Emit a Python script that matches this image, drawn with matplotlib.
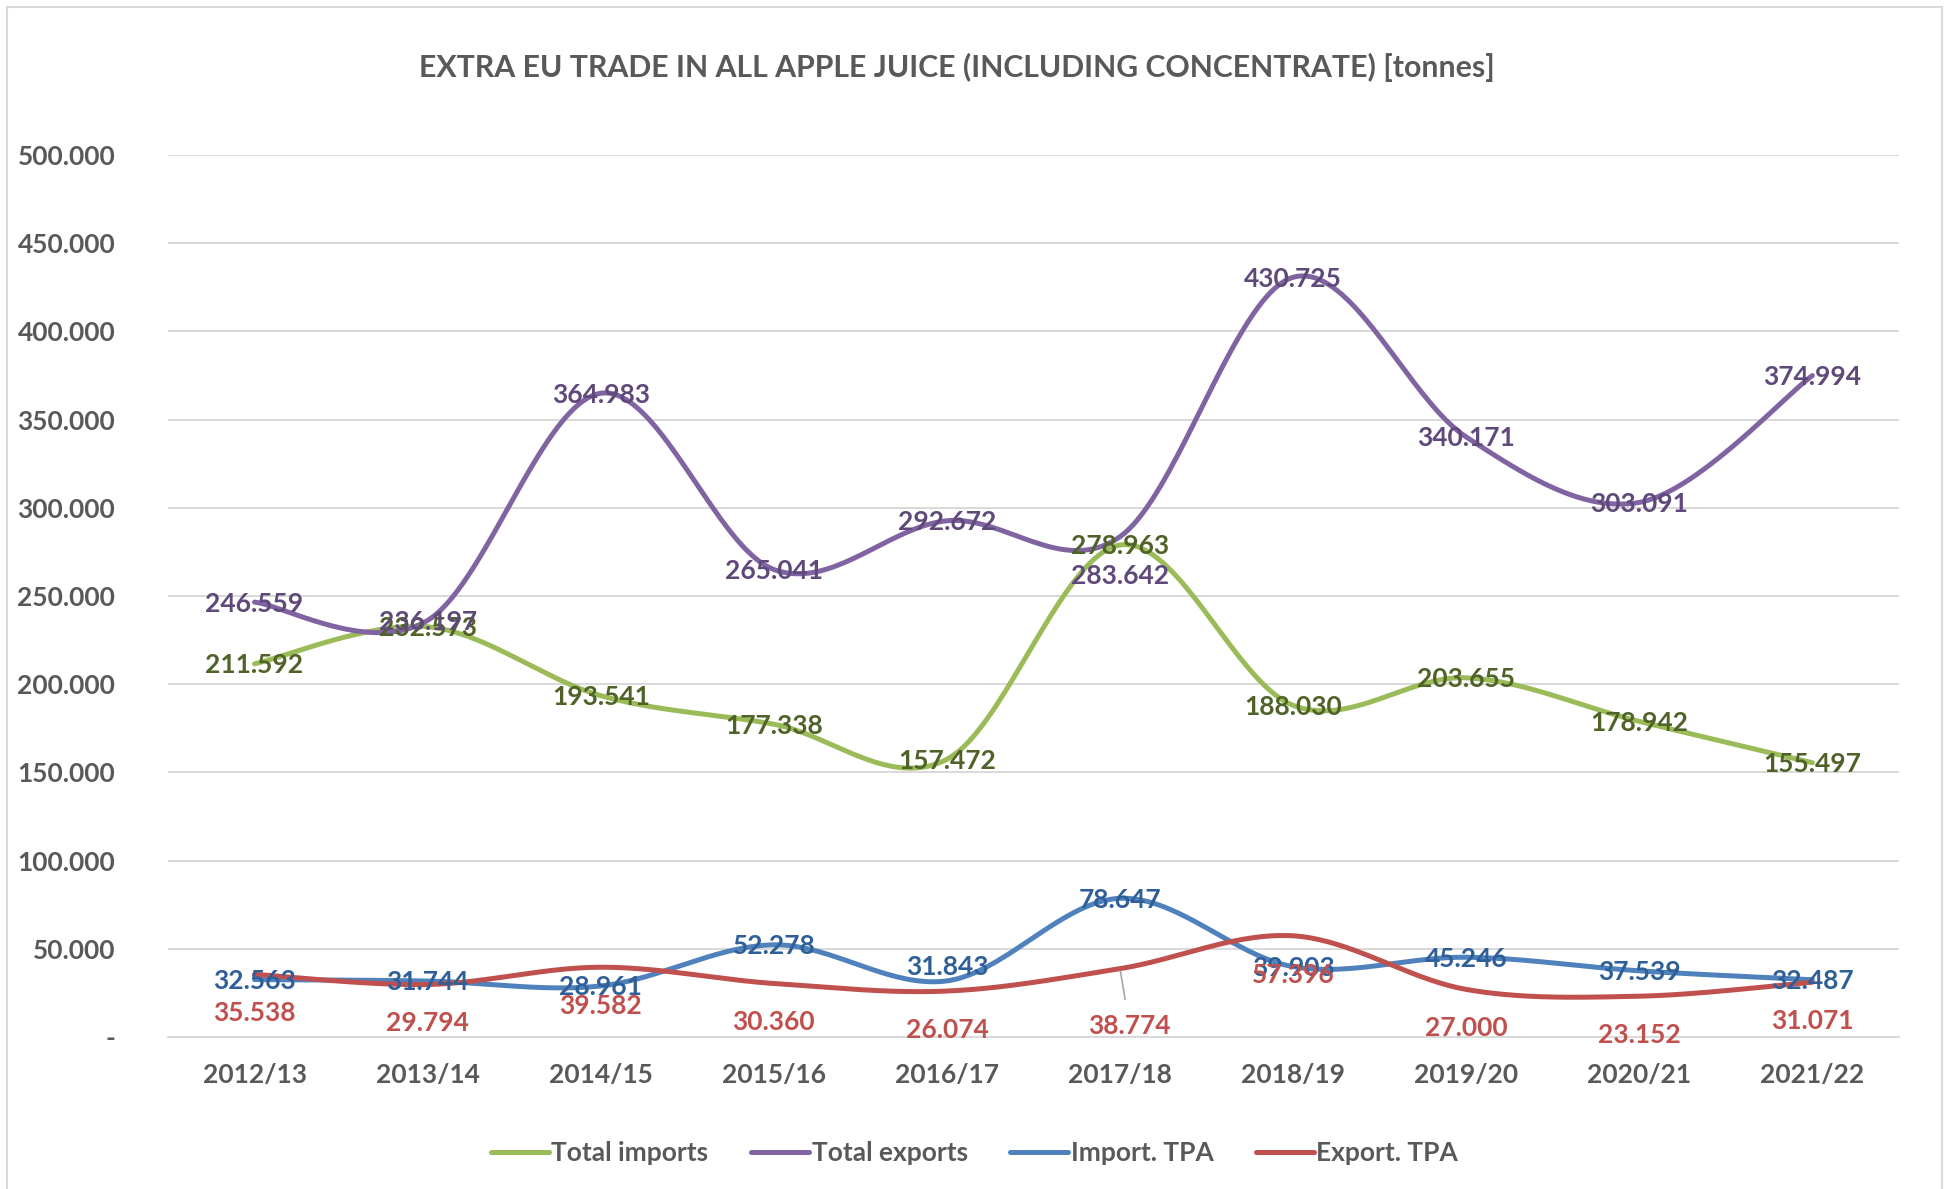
import numpy as np
import matplotlib
matplotlib.use("Agg")
import matplotlib.pyplot as plt
from matplotlib.patches import Rectangle
from matplotlib.ticker import FuncFormatter

plt.rcParams['font.family'] = ['Lato', 'DejaVu Sans']
plt.rcParams['font.weight'] = 'bold'

# data (tonnes)
seasons = ['2012/13', '2013/14', '2014/15', '2015/16', '2016/17',
           '2017/18', '2018/19', '2019/20', '2020/21', '2021/22']
total_imports = [211592, 232573, 193541, 177338, 157472, 278963, 188030, 203655, 178942, 155497]
total_exports = [246559, 236197, 364983, 265041, 292672, 283642, 430725, 340171, 303091, 374994]
import_tpa = [32563, 31744, 28961, 52278, 31843, 78647, 39903, 45246, 37539, 32487]
export_tpa = [35538, 29794, 39582, 30360, 26074, 38774, 57396, 27000, 23152, 31071]

GREY = '#595959'
series = [
    ('Total imports', total_imports, '#9BBB59', '#4F6228'),
    ('Total exports', total_exports, '#8064A2', '#5F497A'),
    ('Import. TPA', import_tpa, '#4F81BD', '#2F5F98'),
    ('Export. TPA', export_tpa, '#C0504D', '#C0504D'),
]


def fmt(v, pos=None):
    if v == 0:
        return '-'
    return '{:,.0f}'.format(v).replace(',', '.')


def smooth(x, y, n=40):
    # excel-like smoothed line (catmull-rom bezier)
    x = np.asarray(x, float)
    y = np.asarray(y, float)
    px = np.concatenate([[x[0]], x, [x[-1]]])
    py = np.concatenate([[y[0]], y, [y[-1]]])
    xs, ys = [], []
    t = np.linspace(0, 1, n)
    for i in range(len(x) - 1):
        p0 = np.array([px[i + 1], py[i + 1]])
        p3 = np.array([px[i + 2], py[i + 2]])
        p1 = p0 + (np.array([px[i + 2], py[i + 2]]) - np.array([px[i], py[i]])) / 6
        p2 = p3 - (np.array([px[i + 3], py[i + 3]]) - np.array([px[i + 1], py[i + 1]])) / 6
        b = ((1 - t) ** 3)[:, None] * p0 + (3 * (1 - t) ** 2 * t)[:, None] * p1 \
            + (3 * (1 - t) * t ** 2)[:, None] * p2 + (t ** 3)[:, None] * p3
        xs.extend(b[:, 0])
        ys.extend(b[:, 1])
    return xs, ys


fig = plt.figure(figsize=(19.49, 11.89), dpi=100)
fig.patches.append(Rectangle((0.0036, -0.01), 0.9928, 1.004, transform=fig.transFigure,
                             fill=False, edgecolor='#D9D9D9', linewidth=1.5))
ax = fig.add_axes([0.0862, 0.1278, 0.8881, 0.7418])

x = np.arange(len(seasons))
for name, vals, col, lcol in series:
    sx, sy = smooth(x, vals)
    ax.plot(sx, sy, color=col, lw=3.6, label=name, solid_capstyle='round')

# data labels: (series index, point index) -> offset in points
offsets = {(1, 5): (0, -28), (2, 4): (0, 10), (3, 5): (7, -41)}
for si, (name, vals, col, lcol) in enumerate(series):
    for i, v in enumerate(vals):
        dx, dy = offsets.get((si, i), (0, -28 if si == 3 else -1))
        ax.annotate(fmt(v), (x[i], v), xytext=(dx, dy), textcoords='offset points',
                    ha='center', va='center', fontsize=19, fontweight='bold', color=lcol)

# leader line for the moved label
ax.annotate('', (x[5], export_tpa[5]), xytext=(4, -24), textcoords='offset points',
            arrowprops=dict(arrowstyle='-', color='#A6A6A6', lw=1.2))

ax.set_xlim(-0.5, len(seasons) - 0.5)
ax.set_ylim(0, 500000)
ax.set_yticks(np.arange(0, 500001, 50000))
ax.yaxis.set_major_formatter(FuncFormatter(fmt))
ax.set_xticks(x)
ax.set_xticklabels(seasons)
ax.grid(axis='y', color='#D9D9D9', lw=1.4)
ax.set_axisbelow(True)
for s in ['top', 'right', 'left']:
    ax.spines[s].set_visible(False)
ax.spines['bottom'].set_color('#D9D9D9')
ax.spines['bottom'].set_linewidth(1.4)
ax.tick_params(axis='both', length=0, labelsize=19, labelcolor=GREY)
ax.tick_params(axis='y', pad=38)
ax.tick_params(axis='x', pad=19)
for lab in ax.get_xticklabels() + ax.get_yticklabels():
    lab.set_fontweight('bold')

fig.text(0.491, 0.943, 'EXTRA EU TRADE IN ALL APPLE JUICE (INCLUDING CONCENTRATE) [tonnes]',
         ha='center', va='center', fontsize=21.8, fontweight='bold', color=GREY)

leg = fig.legend(loc='center', bbox_to_anchor=(0.5, 0.03), ncol=4, frameon=False,
                 fontsize=19, handlelength=2.2, handletextpad=0.1, columnspacing=1.6)
for t in leg.get_texts():
    t.set_color(GREY)
    t.set_fontweight('bold')

fig.savefig('out.png', dpi=100)
